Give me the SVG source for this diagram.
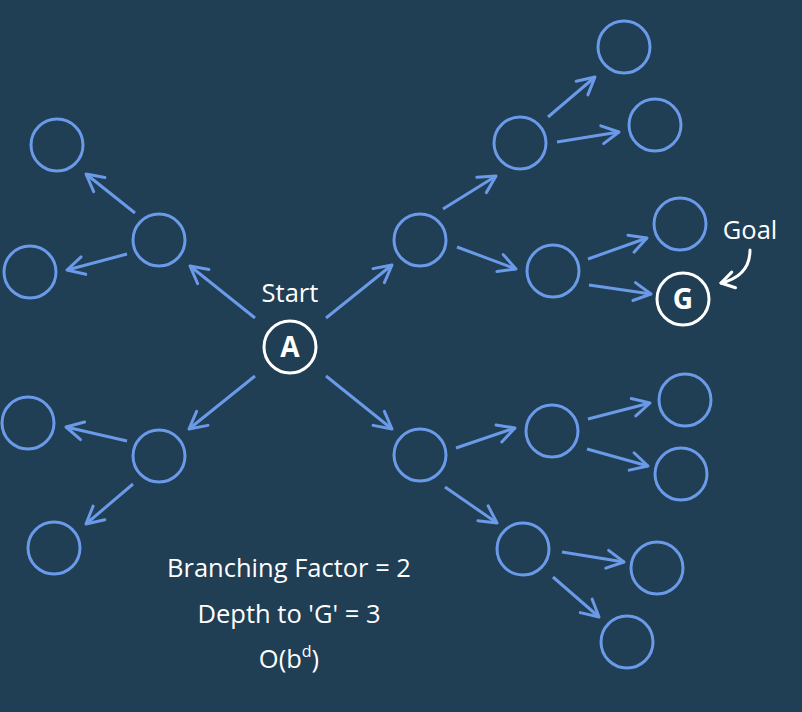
<svg xmlns="http://www.w3.org/2000/svg" width="802" height="712" viewBox="0 0 802 712">
<style>
.n{fill:none;stroke:#6a9ae8;stroke-width:3}
.w{fill:none;stroke:#ffffff;stroke-width:3}
.e{fill:none;stroke:#6a9ae8;stroke-width:3;marker-end:url(#arr)}
.t{font-family:"Open Sans","Noto Sans","DejaVu Sans",sans-serif;fill:#ffffff;text-anchor:middle}
.lbl{font-size:25.5px}
.b{font-size:28px;font-weight:bold}
</style>
<defs>
<marker id="arr" viewBox="-22 -12 26 24" refX="0" refY="0" markerWidth="26" markerHeight="24" markerUnits="userSpaceOnUse" orient="auto">
<path d="M-17,-9 L0,0 L-17,9" fill="none" stroke="#6a9ae8" stroke-width="3" stroke-linecap="round" stroke-linejoin="round"/>
</marker>
<marker id="warr" viewBox="-18 -10 22 20" refX="0" refY="0" markerWidth="22" markerHeight="20" markerUnits="userSpaceOnUse" orient="auto">
<path d="M-13,-8 L0,0 L-13,8" fill="none" stroke="#ffffff" stroke-width="3" stroke-linecap="round" stroke-linejoin="round"/>
</marker>
</defs>
<rect width="802" height="712" fill="#203e54"/>
<g id="connectors">
<line class="e" x1="255" y1="318" x2="190" y2="266"/>
<line class="e" x1="326" y1="318" x2="392" y2="265"/>
<line class="e" x1="255" y1="376" x2="189" y2="429"/>
<line class="e" x1="326" y1="376" x2="392" y2="429"/>
<line class="e" x1="135" y1="213" x2="86" y2="174"/>
<line class="e" x1="127" y1="254" x2="67" y2="270"/>
<line class="e" x1="127" y1="441" x2="66" y2="427"/>
<line class="e" x1="133" y1="484" x2="86" y2="524"/>
<line class="e" x1="443" y1="209" x2="496" y2="176"/>
<line class="e" x1="457" y1="247" x2="516" y2="269"/>
<line class="e" x1="548" y1="117" x2="595" y2="77"/>
<line class="e" x1="557" y1="142" x2="619" y2="132"/>
<line class="e" x1="588" y1="259" x2="647" y2="238"/>
<line class="e" x1="589" y1="285" x2="651" y2="294"/>
<line class="e" x1="456" y1="448" x2="515" y2="428"/>
<line class="e" x1="445" y1="487" x2="497" y2="523"/>
<line class="e" x1="588" y1="419" x2="650" y2="403"/>
<line class="e" x1="587" y1="449" x2="648" y2="466"/>
<line class="e" x1="562" y1="552" x2="624" y2="562"/>
<line class="e" x1="553" y1="577" x2="599" y2="617"/>
<path d="M750,250 Q750,276 721,283" fill="none" stroke="#ffffff" stroke-width="3" stroke-linecap="round" marker-end="url(#warr)"/>
</g>
<g id="node-A"><circle class="w" cx="290" cy="347" r="26"/><text class="t b" x="290" y="357">A</text></g>
<g id="node-UL"><circle class="n" cx="159" cy="240" r="26"/></g>
<g id="node-UL1"><circle class="n" cx="57" cy="145" r="26"/></g>
<g id="node-UL2"><circle class="n" cx="30" cy="272" r="26"/></g>
<g id="node-LL"><circle class="n" cx="159" cy="456" r="26"/></g>
<g id="node-LL1"><circle class="n" cx="28" cy="423" r="26"/></g>
<g id="node-LL2"><circle class="n" cx="54" cy="548" r="26"/></g>
<g id="node-UR"><circle class="n" cx="420" cy="240" r="26"/></g>
<g id="node-UR1"><circle class="n" cx="520" cy="143" r="26"/></g>
<g id="node-UR2"><circle class="n" cx="553" cy="271" r="26"/></g>
<g id="node-UR11"><circle class="n" cx="624" cy="47" r="26"/></g>
<g id="node-UR12"><circle class="n" cx="655" cy="125" r="26"/></g>
<g id="node-UR21"><circle class="n" cx="680" cy="224" r="26"/></g>
<g id="node-G"><circle class="w" cx="683" cy="299" r="26"/><text class="t b" x="683" y="309">G</text></g>
<g id="node-LR"><circle class="n" cx="420" cy="455" r="26"/></g>
<g id="node-LR1"><circle class="n" cx="552" cy="431" r="26"/></g>
<g id="node-LR2"><circle class="n" cx="523" cy="549" r="26"/></g>
<g id="node-LR11"><circle class="n" cx="685" cy="400" r="26"/></g>
<g id="node-LR12"><circle class="n" cx="681" cy="474" r="26"/></g>
<g id="node-LR21"><circle class="n" cx="657" cy="568" r="26"/></g>
<g id="node-LR22"><circle class="n" cx="627" cy="642" r="26"/></g>
<g id="labels">
<text class="t lbl" x="290" y="302">Start</text>
<text class="t lbl" x="750" y="239">Goal</text>
<text class="t lbl" x="289" y="577">Branching Factor = 2</text>
<text class="t lbl" x="289" y="623">Depth to 'G' = 3</text>
<text class="t lbl" x="289" y="668">O(b<tspan font-size="16" dy="-11">d</tspan><tspan dy="11">)</tspan></text>
</g>
</svg>
